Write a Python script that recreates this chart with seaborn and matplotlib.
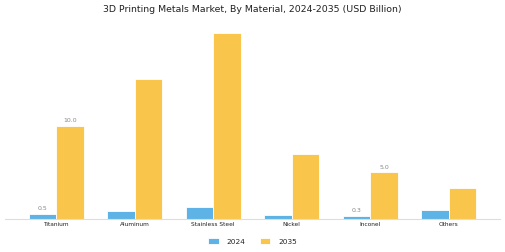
import numpy as np
import matplotlib
matplotlib.use("Agg")
import matplotlib.pyplot as plt
import pandas as pd
import seaborn as sns

# data
materials = ['Titanium', 'Aluminum', 'Stainless Steel', 'Nickel', 'Inconel', 'Others']
val_2024 = [0.5, 0.8, 1.2, 0.4, 0.3, 0.9]
val_2035 = [10.0, 15.0, 20.0, 7.0, 5.0, 3.3]
labelled = ['Titanium', 'Inconel']

df = pd.DataFrame({'Material': materials * 2,
                   'Year': ['2024'] * len(materials) + ['2035'] * len(materials),
                   'Value': val_2024 + val_2035})

sns.set_style('white')
plt.rcParams['font.family'] = ['DejaVu Sans']

fig = plt.figure(figsize=(5.05, 2.53), dpi=100)
ax = fig.add_axes([0.01, 0.132, 0.98, 0.77])

sns.barplot(data=df, x='Material', y='Value', hue='Year',
            palette={'2024': '#5DB3E6', '2035': '#F9C54B'}, saturation=1,
            width=0.7, edgecolor='white', linewidth=0.6, ax=ax)

# value labels only on some categories
for cont, yr in zip(ax.containers, ['2024', '2035']):
    for bar, mat, v in zip(cont, materials, df[df.Year == yr].Value):
        if mat in labelled:
            ax.text(bar.get_x() + bar.get_width() / 2, v + 0.4, f'{v:.1f}',
                    ha='center', va='bottom', fontsize=4.5, color='#888888')

ax.set_xlim(-0.65, 5.65)
ax.set_ylim(0, 21)
ax.set_xlabel('')
ax.set_ylabel('')
ax.set_yticks([])
for s in ['top', 'right', 'left']:
    ax.spines[s].set_visible(False)
ax.spines['bottom'].set_color('#dddddd')
ax.spines['bottom'].set_linewidth(0.8)
ax.tick_params(axis='x', length=0, labelsize=4.2, pad=2, colors='#222222')

fig.suptitle('3D Printing Metals Market, By Material, 2024-2035 (USD Billion)',
             fontsize=6.75, color='#222222', y=0.98)

leg = ax.legend(loc='upper center', bbox_to_anchor=(0.5, -0.065), ncol=2,
                frameon=False, fontsize=5.3, handlelength=1.4, handleheight=0.8,
                columnspacing=1.9, handletextpad=1.1)

fig.savefig('out.png', dpi=100)
